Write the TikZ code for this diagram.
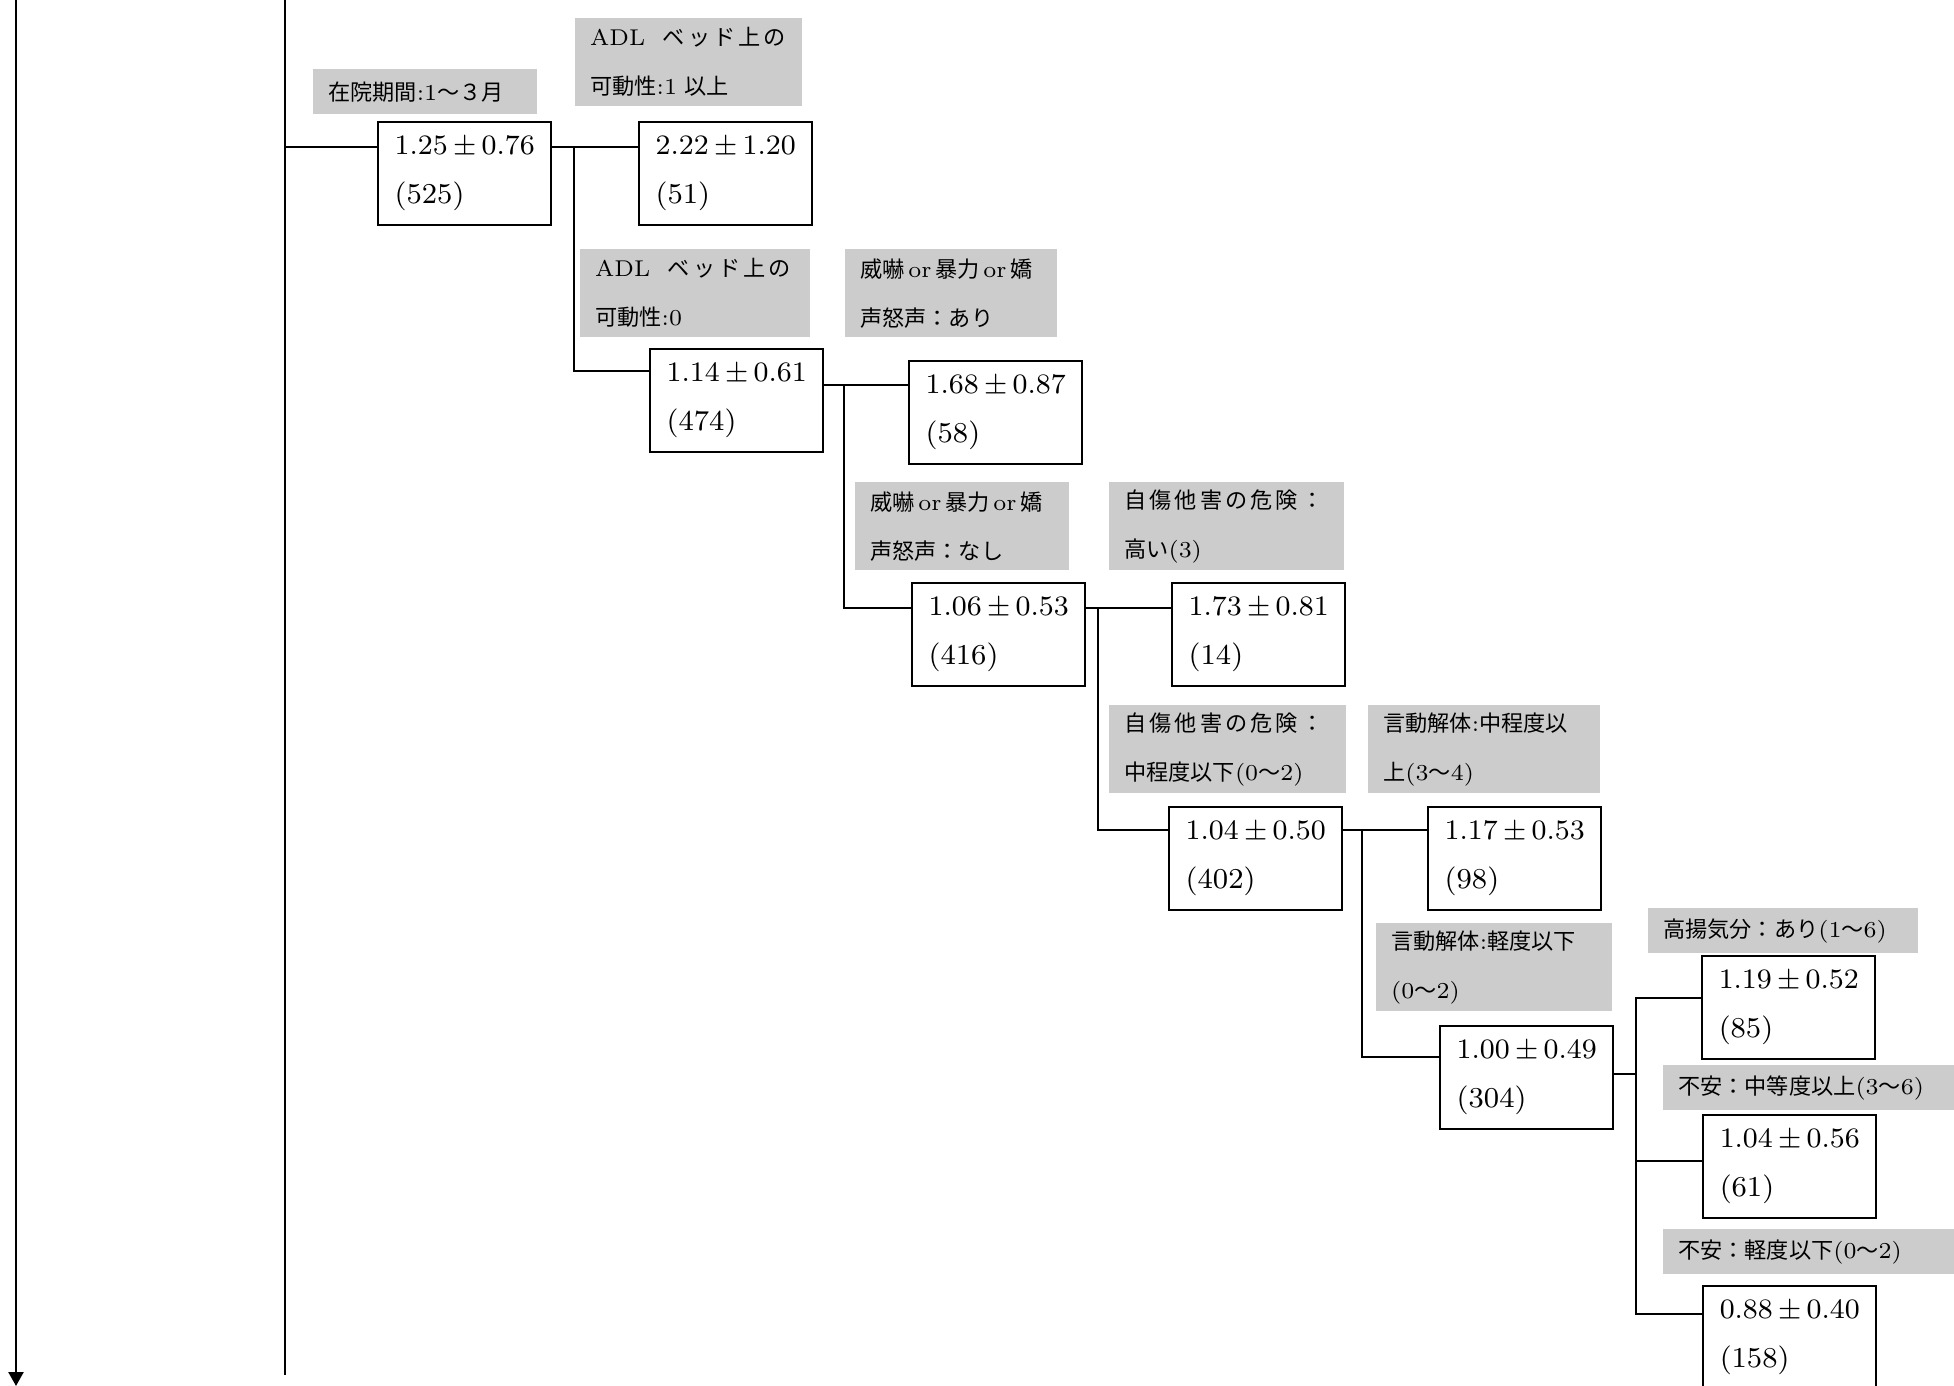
\documentclass[tikz,border=0pt]{standalone}
\usepackage{fontspec}
\usetikzlibrary{arrows.meta}
\newfontfamily\jpfont[Scale=0.97]{Noto Sans CJK JP}
\newfontfamily\jpwide[Scale=0.97,LetterSpace=14]{Noto Sans CJK JP}

\begin{document}
\begin{tikzpicture}[>={Triangle[width=0.15cm,length=0.14cm]}, line width=0.7pt,
        box/.style={draw, anchor=north west, minimum height=1.03cm, text width=1.40cm,
            inner xsep=0.165cm, inner ysep=0pt, align=left, font=\fontsize{8.2}{13.9}\selectfont},
        lab/.style={fill=black!20, anchor=north west, inner xsep=0.15cm, inner ysep=0pt,
            align=left, font=\fontsize{6.5}{13.9}\selectfont\jpfont},
        lab1/.style={lab, minimum height=0.45cm},
        lab2/.style={lab, minimum height=0.88cm}]

        \useasboundingbox (0,0) rectangle (19.54,-13.86);

        \node[lab1, text width=1.94cm] at (3.12,-0.68) (l1) {在院期間\textrm{:1}～３月};
        \node[lab2, text width=1.97cm] at (5.74,-0.17) (l2) {\mbox{\textrm{ADL}\kern5pt{\jpwide ベッド上の}}\\可動性\textrm{:1} 以上};
        \node[lab2, text width=2.00cm] at (5.79,-2.48) (l3) {\mbox{\textrm{ADL}\kern5pt{\jpwide ベッド上の}}\\可動性\textrm{:0}};
        \node[lab2, text width=1.82cm] at (8.44,-2.48) (l4) {威嚇\textrm{\,or\,}暴力\textrm{\,or\,}嬌\\声怒声：あり};
        \node[lab2, text width=1.84cm] at (8.54,-4.81) (l5) {威嚇\textrm{\,or\,}暴力\textrm{\,or\,}嬌\\声怒声：なし};
        \node[lab2, text width=2.05cm] at (11.08,-4.81) (l6) {{\jpwide 自傷他害の危険：}\\高い\textrm{(3)}};
        \node[lab2, text width=2.07cm] at (11.08,-7.04) (l7) {{\jpwide 自傷他害の危険：}\\中程度以下\textrm{(0}～\textrm{2)}};
        \node[lab2, text width=2.02cm] at (13.67,-7.04) (l8) {言動解体\textrm{:}中程度以\\上\textrm{(3}～\textrm{4)}};
        \node[lab2, text width=2.06cm] at (13.75,-9.22) (l9) {言動解体\textrm{:}軽度以下\\\textrm{(0}～\textrm{2)}};
        \node[lab1, text width=2.40cm] at (16.47,-9.07) (l10) {高揚気分：あり\textrm{(1}～\textrm{6)}};
        \node[lab1, text width=2.62cm] at (16.62,-10.64) (l11) {不安：中等度以上\textrm{(3}～\textrm{6)}};
        \node[lab1, text width=2.62cm] at (16.62,-12.28) (l12) {不安：軽度以下\textrm{(0}～\textrm{2)}};

        \node[box] at (3.77,-1.21) (b1) {$1.25\pm0.76$\\(525)};
        \node[box] at (6.38,-1.21) (b2) {$2.22\pm1.20$\\(51)};
        \node[box] at (6.49,-3.48) (b3) {$1.14\pm0.61$\\(474)};
        \node[box] at (9.08,-3.60) (b4) {$1.68\pm0.87$\\(58)};
        \node[box] at (9.11,-5.82) (b5) {$1.06\pm0.53$\\(416)};
        \node[box] at (11.71,-5.82) (b6) {$1.73\pm0.81$\\(14)};
        \node[box] at (11.68,-8.06) (b7) {$1.04\pm0.50$\\(402)};
        \node[box] at (14.27,-8.06) (b8) {$1.17\pm0.53$\\(98)};
        \node[box] at (14.39,-10.25) (b9) {$1.00\pm0.49$\\(304)};
        \node[box] at (17.01,-9.55) (b10) {$1.19\pm0.52$\\(85)};
        \node[box] at (17.02,-11.14) (b11) {$1.04\pm0.56$\\(61)};
        \node[box] at (17.02,-12.85) (b12) {$0.88\pm0.40$\\(158)};

        \coordinate (t0) at (0.16,0);
        \coordinate (t1) at (0.16,-13.86);
        \coordinate (a0) at (2.85,0);
        \coordinate (a1) at (2.85,-13.75);
        \draw[->] (t0) -- (t1);
        \draw (a0) -- (a1);

        \coordinate (s0) at (2.85,-1.47);
        \coordinate (s1) at (5.74,-1.47);
        \coordinate (s2) at (8.44,-3.85);
        \coordinate (s3) at (10.98,-6.08);
        \coordinate (s4) at (13.62,-8.30);
        \coordinate (s5) at (16.36,-10.74);
        \coordinate (s6) at (16.36,-9.98);
        \coordinate (s7) at (16.36,-13.14);
        \coordinate (s8) at (16.36,-11.61);

        \draw (s0) -- (s0 -| b1.west);
        \draw (s1 -| b1.east) -- (s1 -| b2.west);
        \draw (s1) |- ([yshift=-0.23cm]b3.north west);
        \draw (s2 -| b3.east) -- (s2 -| b4.west);
        \draw (s2) |- ([yshift=-0.26cm]b5.north west);
        \draw (s3 -| b5.east) -- (s3 -| b6.west);
        \draw (s3) |- ([yshift=-0.24cm]b7.north west);
        \draw (s4 -| b7.east) -- (s4 -| b8.west);
        \draw (s4) |- ([yshift=-0.32cm]b9.north west);
        \draw (s5 -| b9.east) -- (s5);
        \draw (s6 -| b10.west) -- (s6) -- (s7) -- (s7 -| b12.west);
        \draw (s8) -- (s8 -| b11.west);

\end{tikzpicture}
\end{document}
